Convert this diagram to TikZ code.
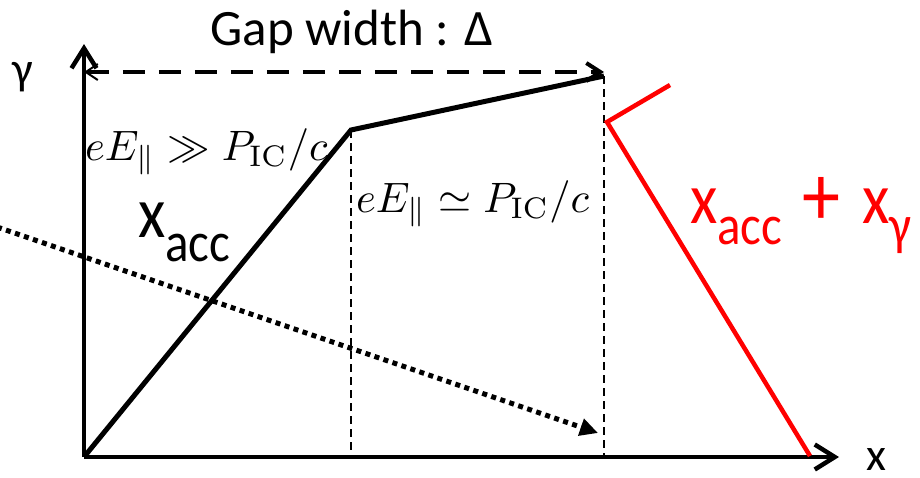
\documentclass[tikz,border=0pt]{standalone}
\usepackage[no-math]{fontspec}
\setmainfont{Carlito}
\usepackage{graphicx}
\usetikzlibrary{arrows.meta}
\begin{document}
\begin{tikzpicture}[x=1pt,y=-1pt,
  axis/.style={line width=4.5pt, -{Straight Barb[length=20pt,width=25pt]}},
  curve/.style={line width=5pt, line join=miter},
  guide/.style={line width=1.6pt, dash pattern=on 8pt off 5pt},
  gaparrow/.style={line width=4pt, dash pattern=on 22pt off 14pt,
    {Straight Barb[length=12pt,width=16pt,line width=2pt]}-{Straight Barb[length=14pt,width=18pt]}},
  redline/.style={red, line width=4.5pt, line join=miter},
  dotarrow/.style={line width=5pt, dash pattern=on 5pt off 4.5pt,
    -{Triangle[length=18pt,width=17pt]}},
  lbl/.style={inner sep=0pt, outer sep=0pt},
]
\useasboundingbox (0,0) rectangle (920,477);
\coordinate (O) at (84,457);
\coordinate (Ytop) at (84,44);
\coordinate (Xend) at (839,457);
\coordinate (K) at (351,130);
\coordinate (T) at (604,76);
\coordinate (Kb) at (351,457);
\coordinate (Tb) at (604,457);
\coordinate (Gl) at (84,72);
\coordinate (Gr) at (604,72);
\coordinate (Ra) at (670,85);
\coordinate (Rb) at (607,122);
\coordinate (Rc) at (810,456);
\coordinate (Ds) at (-3,227);
\coordinate (De) at (598,433);

\draw[guide] (K) -- (Kb);
\draw[guide] (T) -- (Tb);
\draw[dotarrow] (Ds) -- (De);
\draw[curve] (O) -- (K) -- (T);
\draw[gaparrow] (Gl) -- (Gr);
\draw[axis] (O) -- (Ytop);
\draw[axis] (O) -- (Xend);
\draw[redline] (Ra) -- (Rb) -- (Rc);

\node[lbl, anchor=base] (gap) at (352,45) {\fontsize{51}{51}\selectfont Gap width : Δ};
\node[lbl] (gam) at (23,77) {\fontsize{46}{46}\selectfont γ};
\node[lbl] (xl) at (876,460) {\fontsize{46}{46}\selectfont x};
\node[lbl, anchor=base west] (m1) at (85,160) {\scalebox{4.25}{$eE_{\|}\gg P_{\mathrm{IC}}/c$}};
\node[lbl, anchor=base west] (m2) at (356,212) {\scalebox{4.25}{$eE_{\|}\simeq P_{\mathrm{IC}}/c$}};
\node[lbl, anchor=base west] (xacc) at (138,237) {\scalebox{1}[1.15]{\fontsize{63}{63}\selectfont x\raisebox{-21pt}{\fontsize{49}{49}\selectfont acc}}};
\node[lbl, anchor=base west, red] (xsum) at (690,223) {\scalebox{1}[1.15]{\fontsize{63}{63}\selectfont x\raisebox{-19pt}{\fontsize{49}{49}\selectfont acc}\hspace{20pt}\raisebox{-2pt}{\fontsize{76}{76}\selectfont +}\hspace{22pt}x\raisebox{-19pt}{\fontsize{49}{49}\selectfont γ}}};
\end{tikzpicture}
\end{document}
